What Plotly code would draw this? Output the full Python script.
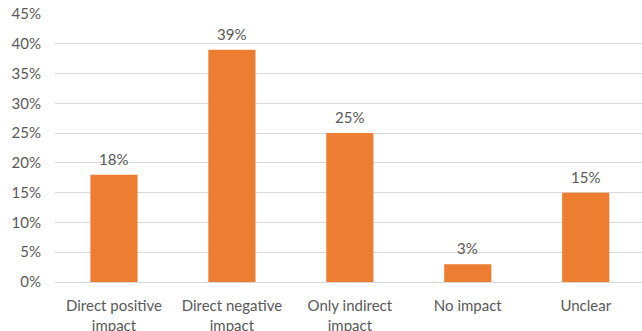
import plotly.graph_objects as go

categories = ["Direct positive<br>impact", "Direct negative<br>impact",
              "Only indirect<br>impact", "No impact", "Unclear"]
shares = [0.18, 0.39, 0.25, 0.03, 0.15]
y_ticks = [0, 0.05, 0.10, 0.15, 0.20, 0.25, 0.30, 0.35, 0.40, 0.45]

text_color = "#595959"
font_family = "Lato, Carlito, 'Open Sans', sans-serif"
font_size = 15

positions = list(range(len(categories)))

fig = go.Figure(
    go.Bar(
        x=positions,
        y=shares,
        marker=dict(color="#ED7D31", line=dict(width=0)),
        width=0.4,
        hovertemplate="%{y:.0%}<extra></extra>",
    )
)

# value labels floating a little above each bar
for xi, yi in zip(positions, shares):
    fig.add_annotation(
        x=xi, y=yi, text=f"{yi:.0%}",
        showarrow=False, yanchor="middle", yshift=16,
        font=dict(color=text_color, size=font_size, family=font_family),
    )

fig.update_layout(
    width=642,
    height=331,
    margin=dict(l=55, r=0, t=14, b=49),
    paper_bgcolor="white",
    plot_bgcolor="white",
    showlegend=False,
    font=dict(family=font_family, color=text_color, size=font_size),
)

fig.update_xaxes(
    tickmode="array",
    tickvals=positions,
    ticktext=categories,
    range=[-0.5, 4.477],
    showgrid=False,
    showline=False,
    zeroline=False,
    ticks="",
    ticklabelstandoff=13,
    tickfont=dict(size=font_size, color=text_color),
    automargin=False,
)

fig.update_yaxes(
    range=[0, 0.45],
    tickmode="array",
    tickvals=y_ticks,
    tickformat=".0%",
    showgrid=True,
    gridcolor="#D9D9D9",
    gridwidth=1,
    zeroline=True,
    zerolinecolor="#D9D9D9",
    zerolinewidth=1,
    showline=False,
    ticks="",
    ticklabelstandoff=13,
    tickfont=dict(size=font_size, color=text_color),
    automargin=False,
)

fig.write_html("out.html")
